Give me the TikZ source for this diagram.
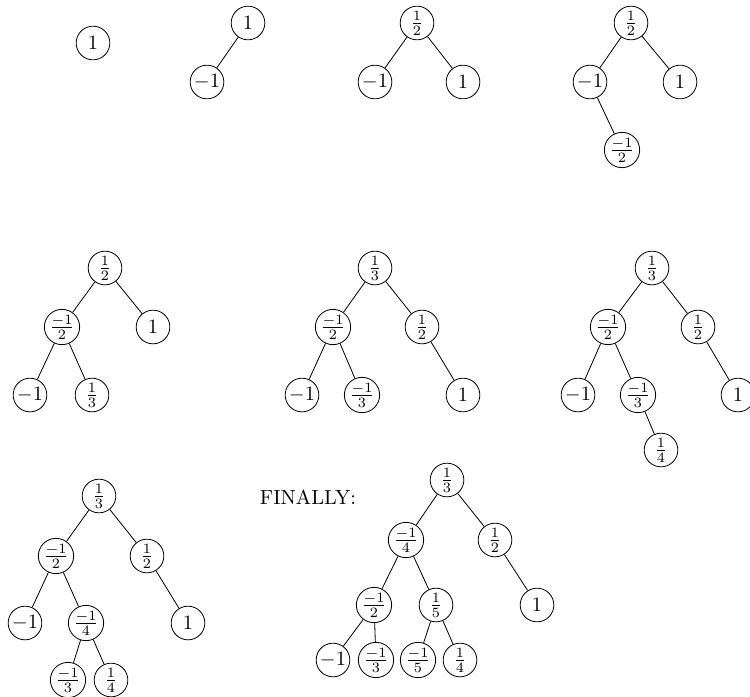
\documentclass[tikz,border=0pt]{standalone}
\usepackage{amsmath, amssymb}
\usepackage{tikz}

\begin{document}
\begin{tikzpicture}[x=0.49pt,y=-0.49pt,
  vtx/.style={draw,circle,inner sep=0pt,minimum size=16.5pt}]
\useasboundingbox (0,0) rectangle (750,696);

% 1
\node[vtx] (a1) at (93,43) {$1$};

% 2
\node[vtx] (b1) at (248,23) {$1$};
\node[vtx] (b2) at (207,82) {$-1$};
\draw (b1) -- (b2);

% 3
\node[vtx] (c1) at (417,23) {$\frac{1}{2}$};
\node[vtx] (c2) at (375,82) {$-1$};
\node[vtx] (c3) at (463,82) {$1$};
\draw (c1) -- (c2);
\draw (c1) -- (c3);

% 4
\node[vtx] (d1) at (631,23) {$\frac{1}{2}$};
\node[vtx] (d2) at (590,82) {$-1$};
\node[vtx] (d3) at (680,82) {$1$};
\node[vtx] (d4) at (622,150) {$\frac{-1}{2}$};
\draw (d1) -- (d2);
\draw (d1) -- (d3);
\draw (d2) -- (d4);

% 5
\node[vtx] (e1) at (105,268) {$\frac{1}{2}$};
\node[vtx] (e2) at (62,327) {$\frac{-1}{2}$};
\node[vtx] (e3) at (153,327) {$1$};
\node[vtx] (e4) at (30,395) {$-1$};
\node[vtx] (e5) at (92,395) {$\frac{1}{3}$};
\draw (e1) -- (e2);
\draw (e1) -- (e3);
\draw (e2) -- (e4);
\draw (e2) -- (e5);

% 6
\node[vtx] (f1) at (375,268) {$\frac{1}{3}$};
\node[vtx] (f2) at (333,327) {$\frac{-1}{2}$};
\node[vtx] (f3) at (422,327) {$\frac{1}{2}$};
\node[vtx] (f4) at (302,395) {$-1$};
\node[vtx] (f5) at (362,395) {$\frac{-1}{3}$};
\node[vtx] (f6) at (463,395) {$1$};
\draw (f1) -- (f2);
\draw (f1) -- (f3);
\draw (f2) -- (f4);
\draw (f2) -- (f5);
\draw (f3) -- (f6);

% 7
\node[vtx] (g1) at (652,268) {$\frac{1}{3}$};
\node[vtx] (g2) at (608,327) {$\frac{-1}{2}$};
\node[vtx] (g3) at (698,327) {$\frac{1}{2}$};
\node[vtx] (g4) at (578,395) {$-1$};
\node[vtx] (g5) at (638,395) {$\frac{-1}{3}$};
\node[vtx] (g6) at (738,395) {$1$};
\node[vtx] (g7) at (661,450) {$\frac{1}{4}$};
\draw (g1) -- (g2);
\draw (g1) -- (g3);
\draw (g2) -- (g4);
\draw (g2) -- (g5);
\draw (g3) -- (g6);
\draw (g5) -- (g7);

% 8
\node[vtx] (h1) at (99,496) {$\frac{1}{3}$};
\node[vtx] (h2) at (56,556) {$\frac{-1}{2}$};
\node[vtx] (h3) at (147,556) {$\frac{1}{2}$};
\node[vtx] (h4) at (25,623) {$-1$};
\node[vtx] (h5) at (86,623) {$\frac{-1}{4}$};
\node[vtx] (h6) at (188,623) {$1$};
\node[vtx] (h7) at (68,680) {$\frac{-1}{3}$};
\node[vtx] (h8) at (111,680) {$\frac{1}{4}$};
\draw (h1) -- (h2);
\draw (h1) -- (h3);
\draw (h2) -- (h4);
\draw (h2) -- (h5);
\draw (h3) -- (h6);
\draw (h5) -- (h7);
\draw (h5) -- (h8);

% final
\node (fin) at (308,497) {FINALLY:};
\node[vtx] (k1) at (447,480) {$\frac{1}{3}$};
\node[vtx] (k2) at (406,540) {$\frac{-1}{4}$};
\node[vtx] (k3) at (495,540) {$\frac{1}{2}$};
\node[vtx] (k4) at (374,605) {$\frac{-1}{2}$};
\node[vtx] (k5) at (436,605) {$\frac{1}{5}$};
\node[vtx] (k6) at (537,605) {$1$};
\node[vtx] (k7) at (333,660) {$-1$};
\node[vtx] (k8) at (376,660) {$\frac{-1}{3}$};
\node[vtx] (k9) at (418,660) {$\frac{-1}{5}$};
\node[vtx] (k10) at (460,660) {$\frac{1}{4}$};
\draw (k1) -- (k2);
\draw (k1) -- (k3);
\draw (k2) -- (k4);
\draw (k2) -- (k5);
\draw (k3) -- (k6);
\draw (k4) -- (k7);
\draw (k4) -- (k8);
\draw (k5) -- (k9);
\draw (k5) -- (k10);

\end{tikzpicture}
\end{document}
